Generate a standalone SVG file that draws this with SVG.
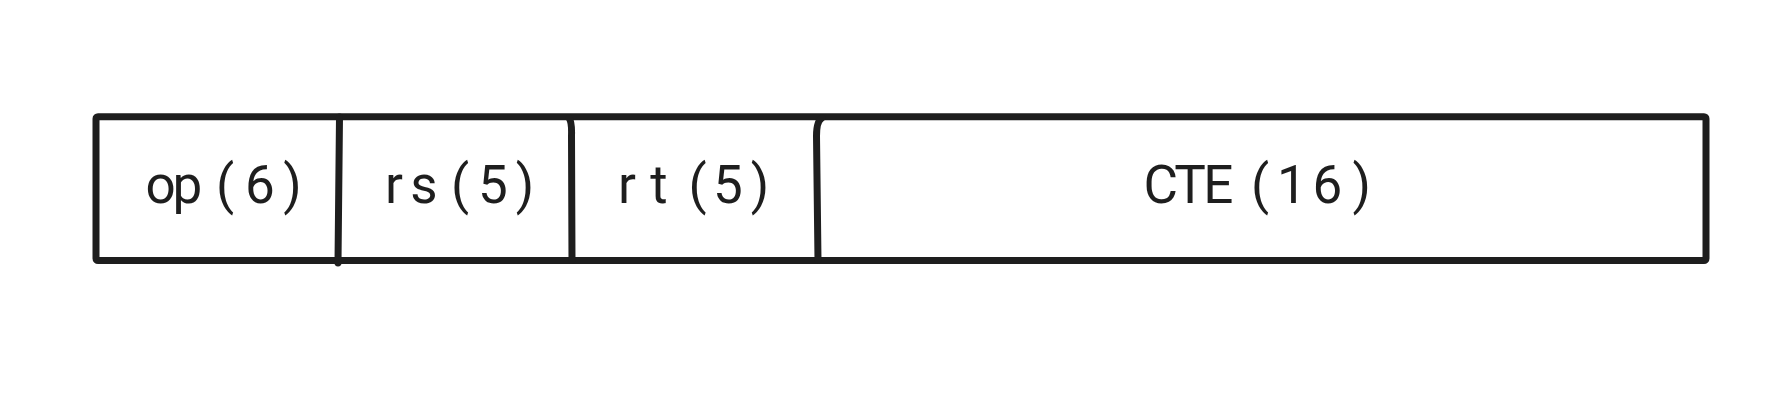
<svg xmlns="http://www.w3.org/2000/svg" width="1791" height="400" viewBox="0 0 1791 400">
<style>
.ln{fill:none;stroke:#1e1e1e;stroke-width:7;stroke-linecap:round;stroke-linejoin:round}
.t{font-family:Roboto,"Liberation Sans",sans-serif;font-size:53px;fill:#1e1e1e;text-anchor:middle}
</style>
<rect width="1791" height="400" fill="#ffffff"/>
<g id="frame">
<rect class="ln" x="96" y="116.7" width="1610" height="143.8" rx="2"/>
</g>
<g id="connectors">
<path class="ln" d="M339.5 117 L338 263"/>
<path class="ln" d="M569 118 Q572 122 571.5 136 L572 260"/>
<path class="ln" d="M822 118 Q816.5 121 816.5 136 L818 260"/>
</g>
<g id="field-op">
<text class="t" x="160.5 187.5 225 260 292.5" y="203">op(6)</text>
</g>
<g id="field-rs">
<text class="t" x="394 424 460 493 525" y="203">rs(5)</text>
</g>
<g id="field-rt">
<text class="t" x="627 659 697.5 728 760" y="203">rt(5)</text>
</g>
<g id="field-cte">
<text class="t" x="1160.8 1190 1218.3 1260 1292 1327.5 1361.7" y="203">CTE(16)</text>
</g>
</svg>
